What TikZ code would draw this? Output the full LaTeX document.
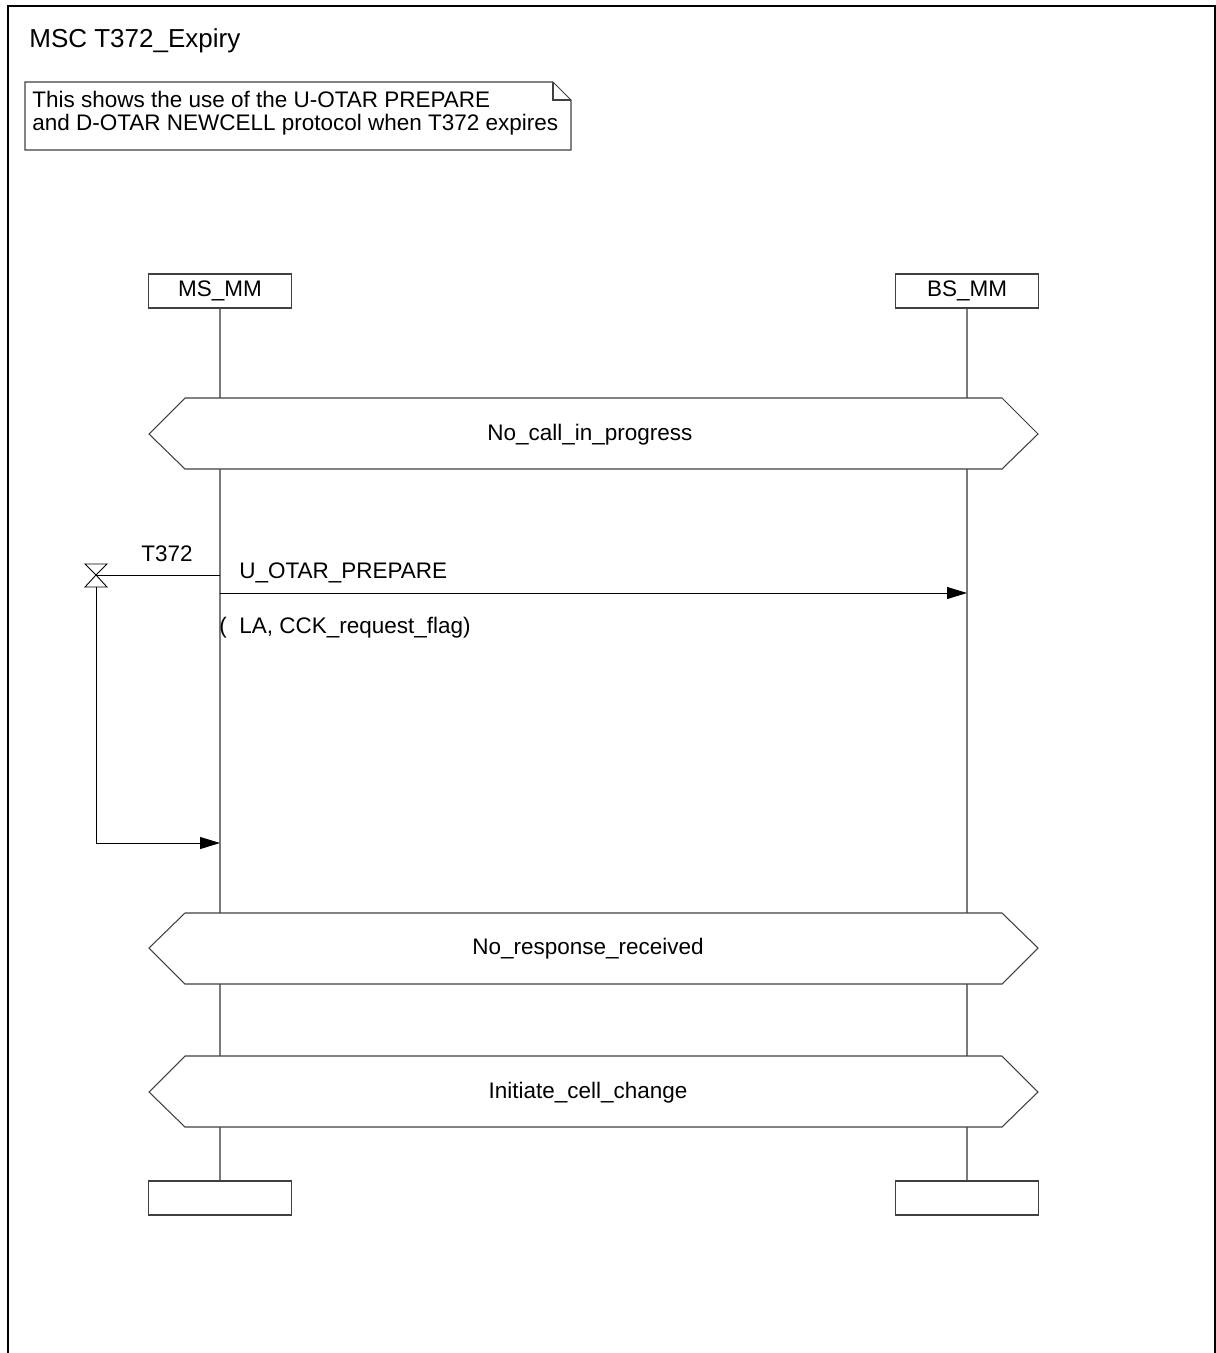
\documentclass[tikz,border=0pt]{standalone}
\usepackage{fontspec}
\setmainfont{Liberation Sans}
\usetikzlibrary{arrows.meta, positioning, calc}
\definecolor{lifegray}{HTML}{7A7A7A}
\definecolor{boxgray}{HTML}{404040}

\begin{document}
\begin{tikzpicture}[
    x=0.02cm, y=-0.02cm,
    every node/.style={font=\fontsize{12.8}{15}\selectfont, inner sep=0pt},
    instance/.style={draw=boxgray, line width=0.6pt, minimum width=2.86cm, minimum height=0.68cm, fill=white},
    condition/.style={draw=boxgray, line width=0.6pt, fill=white},
    lifeline/.style={draw=lifegray, line width=0.8pt},
    msg/.style={-{Triangle[length=0.4cm, width=0.24cm]}, draw=black, line width=0.5pt}
]
    \useasboundingbox (0,0) rectangle (1216,1353);

    % Frame and title
    \draw[line width=0.6pt] (8,1353) -- (8,6) -- (1215,6) -- (1215,1353);
    \node[anchor=west, font=\fontsize{14.8}{17}\selectfont] (title) at (29,41) {MSC T372\_Expiry};

    % Comment
    \draw[draw=boxgray, line width=0.6pt] (25,82) -- (553,82) -- (571,100) -- (571,150) -- (25,150) -- cycle;
    \draw[draw=boxgray, line width=0.6pt] (553,82) -- (553,100) -- (571,100);
    \node[anchor=west, align=left, font=\fontsize{12.8}{13.2}\selectfont] (note) at (32,113) {This shows the use of the U-OTAR PREPARE\\and D-OTAR NEWCELL protocol when T372 expires};

    % Instances
    \node[instance] (ms) at (220,291) {MS\_MM};
    \node[instance] (bs) at (967,291) {BS\_MM};
    \node[instance] (msend) at (220,1198) {};
    \node[instance] (bsend) at (967,1198) {};

    % Lifelines
    \draw[lifeline] (ms) -- (msend);
    \draw[lifeline] (bs) -- (bsend);

    % Conditions
    \draw[condition] (149,434) -- (185,398) -- (1002,398) -- (1038,434) -- (1002,469) -- (185,469) -- cycle;
    \node (nocall) at (590,435) {No\_call\_in\_progress};
    \draw[condition] (149,948) -- (185,913) -- (1002,913) -- (1038,948) -- (1002,984) -- (185,984) -- cycle;
    \node (noresp) at (588,949) {No\_response\_received};
    \draw[condition] (149,1092) -- (185,1056) -- (1002,1056) -- (1038,1092) -- (1002,1127) -- (185,1127) -- cycle;
    \node (cellchg) at (588,1093) {Initiate\_cell\_change};

    % Timer T372
    \coordinate (tset) at (220,575);
    \coordinate (tmr) at (96,575);
    \coordinate (tmrb) at (96,587);
    \coordinate (texp) at (220,843);
    \draw[line width=0.5pt] (tset) -- (tmr);
    \draw[line width=0.5pt] (85,564) -- (107,564) -- (tmr) -- cycle;
    \draw[line width=0.5pt] (tmr) -- (107,587) -- (85,587) -- cycle;
    \node (tlabel) at (167,554) {T372};
    \draw[msg] (tmrb) |- (texp);

    % Message
    \coordinate (m1a) at (220,593);
    \coordinate (m1b) at (967,593);
    \draw[msg] (m1a) -- (m1b);
    \node[anchor=west] (m1name) at (239,573) {U\_OTAR\_PREPARE};
    \node[anchor=west] (m1par) at (219,628) {(\ \ LA, CCK\_request\_flag)};
\end{tikzpicture}
\end{document}
